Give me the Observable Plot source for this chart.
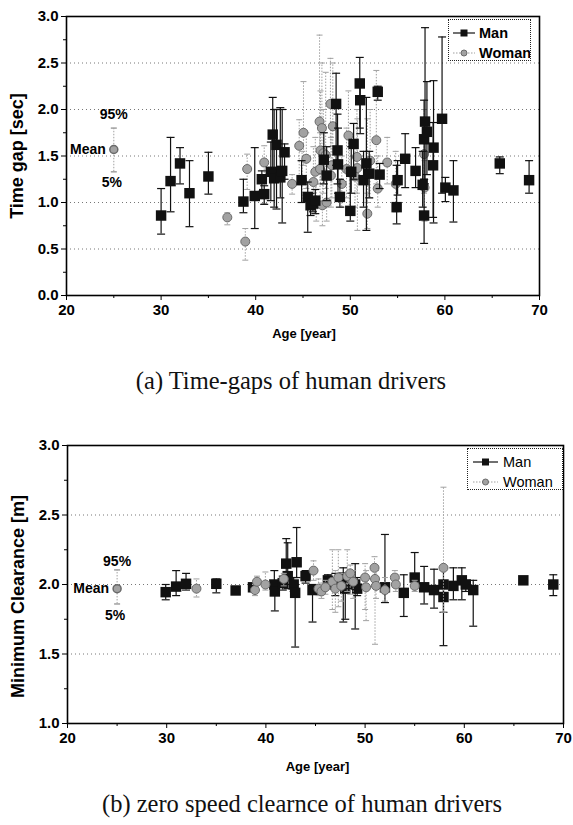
<!DOCTYPE html>
<html>
<head>
<meta charset="utf-8">
<script src="https://cdn.jsdelivr.net/npm/d3@7"></script>
<script src="https://cdn.jsdelivr.net/npm/@observablehq/plot@0.6"></script>
<style>
  html, body { margin: 0; padding: 0; background: #fff; }
  body { width: 573px; height: 825px; position: relative; overflow: hidden; font-family: "Liberation Sans", Arial, sans-serif; }
  .panel { position: absolute; left: 0; }
  .cap { position: absolute; transform: translateX(-50%); white-space: nowrap; font-family: "Liberation Serif", "Times New Roman", serif; font-size: 24.5px; line-height: 30px; color: #111; }
  .legend { position: absolute; box-sizing: border-box; border: 1px dotted #222; background: #fff; }
</style>
</head>
<body>
<div id="p1" class="panel" style="top:0px"></div>
<div class="cap" style="left:291px; top:366px">(a) Time-gaps of human drivers</div>
<div id="p2" class="panel" style="top:420px"></div>
<div class="cap" style="left:302px; top:789px">(b) zero speed clearnce of human drivers</div>
<script>
// ---------- data: [age, mean, 5%, 95%] ----------
const timeGapMan = [
  [30.0, 0.86, 0.66, 1.15], [31.0, 1.23, 0.90, 1.70], [32.0, 1.42, 1.20, 1.59],
  [33.0, 1.10, 0.74, 1.45], [35.0, 1.28, 1.09, 1.54], [38.7, 1.01, 0.89, 1.25],
  [39.9, 1.07, 0.72, 1.59], [40.65, 1.25, 1.12, 1.34], [40.9, 1.09, 0.98, 1.18],
  [41.6, 1.33, 1.02, 1.65], [41.8, 1.73, 1.30, 2.13], [41.95, 1.26, 0.95, 2.00],
  [42.2, 1.62, 0.93, 2.00], [42.6, 1.27, 1.05, 2.02], [42.8, 1.34, 0.78, 2.00],
  [43.05, 1.54, 1.25, 1.63], [44.85, 1.24, 1.00, 1.45], [45.5, 1.06, 0.68, 1.22],
  [45.8, 0.97, 0.86, 1.10], [46.05, 0.99, 0.90, 1.06], [46.3, 1.02, 0.88, 1.14],
  [47.2, 1.46, 1.20, 1.75], [47.5, 1.29, 1.02, 1.60], [48.5, 2.06, 1.40, 2.39],
  [48.65, 1.56, 1.20, 1.95], [48.7, 1.41, 1.10, 1.80], [48.9, 1.06, 0.95, 1.25],
  [50.0, 0.91, 0.80, 1.37], [50.1, 1.33, 1.10, 1.60], [50.35, 1.63, 1.25, 1.85],
  [51.0, 2.28, 1.80, 2.56], [51.05, 2.10, 1.74, 2.30], [51.4, 1.24, 0.95, 1.55],
  [51.7, 1.42, 0.70, 2.13], [52.0, 1.31, 1.05, 1.55], [52.9, 2.19, 2.10, 2.25],
  [53.1, 1.30, 1.15, 1.42], [54.9, 0.95, 0.77, 1.40], [55.0, 1.24, 1.08, 1.45],
  [55.8, 1.47, 1.16, 1.74], [56.9, 1.34, 1.16, 1.59], [57.65, 1.19, 0.95, 1.55],
  [57.8, 0.86, 0.56, 1.25], [57.8, 1.68, 1.25, 2.10], [57.9, 1.87, 1.20, 2.88],
  [58.1, 1.76, 1.30, 2.30], [58.75, 1.40, 0.84, 1.86], [58.8, 1.59, 0.78, 2.31],
  [59.7, 1.90, 1.10, 2.78], [60.05, 1.16, 1.01, 1.27], [60.9, 1.13, 0.79, 1.45],
  [65.8, 1.42, 1.31, 1.49], [68.9, 1.24, 1.10, 1.45]
];
const timeGapWoman = [
  [37.0, 0.84, 0.76, 0.89], [38.9, 0.58, 0.38, 0.72], [39.1, 1.36, 1.14, 1.52],
  [40.9, 1.43, 0.99, 1.61], [43.85, 1.20, 1.09, 1.30], [44.6, 1.61, 1.20, 1.89],
  [44.9, 1.24, 1.00, 1.55], [45.05, 1.75, 1.40, 2.30], [45.35, 1.47, 1.15, 1.75],
  [46.1, 1.22, 0.95, 1.60], [46.3, 1.33, 1.05, 1.70], [46.4, 0.98, 0.80, 1.20],
  [46.75, 1.87, 1.40, 2.80], [46.8, 1.36, 1.00, 1.75], [46.85, 1.56, 1.20, 2.20],
  [47.0, 1.80, 1.30, 2.50], [47.05, 0.97, 0.75, 1.25], [47.15, 1.53, 1.10, 2.00],
  [47.4, 1.51, 1.15, 2.40], [47.5, 1.00, 0.80, 1.30], [47.9, 2.06, 1.60, 2.55],
  [47.95, 1.29, 0.95, 1.70], [48.05, 1.40, 1.05, 1.80], [48.15, 1.82, 1.40, 2.50],
  [49.1, 1.20, 0.95, 1.50], [49.6, 1.36, 1.05, 1.80], [49.8, 1.72, 1.30, 2.20],
  [49.9, 1.34, 0.90, 1.75], [50.5, 1.28, 0.95, 1.65], [50.7, 1.49, 1.10, 2.00],
  [50.75, 1.37, 0.70, 1.90], [51.8, 1.43, 1.00, 1.90], [51.8, 0.88, 0.72, 1.10],
  [52.1, 1.45, 1.05, 2.00], [52.75, 1.67, 1.20, 2.42], [52.9, 1.15, 0.95, 1.50],
  [53.9, 1.43, 1.20, 1.70], [54.8, 1.20, 0.90, 1.55], [57.8, 1.52, 1.10, 2.00],
  [57.85, 1.16, 0.80, 1.45]
];
const clearanceMan = [
  [29.9, 1.945, 1.89, 2.00], [30.95, 1.985, 1.92, 2.10], [31.95, 2.005, 1.96, 2.08],
  [35.0, 2.005, 1.94, 2.04], [36.95, 1.957, 1.93, 1.98], [38.7, 1.98, 1.95, 2.00],
  [40.85, 2.00, 1.95, 2.10], [40.9, 1.95, 1.81, 2.00], [41.7, 2.01, 1.96, 2.06],
  [42.05, 2.15, 2.00, 2.33], [42.2, 2.06, 1.97, 2.30], [42.8, 2.00, 1.95, 2.05],
  [42.95, 1.94, 1.55, 2.00], [43.1, 2.16, 2.05, 2.41], [44.0, 2.06, 2.01, 2.10],
  [44.7, 1.96, 1.73, 2.00], [46.25, 2.03, 1.99, 2.07], [47.0, 2.00, 1.92, 2.08],
  [47.8, 2.05, 1.73, 2.12], [48.0, 1.97, 1.75, 2.03], [49.0, 2.00, 1.68, 2.15],
  [49.2, 1.97, 1.92, 2.05], [52.0, 1.98, 1.87, 2.36], [53.9, 1.94, 1.77, 2.07],
  [55.0, 2.05, 1.99, 2.23], [55.95, 1.98, 1.86, 2.13], [56.95, 1.96, 1.83, 2.11],
  [57.9, 2.00, 1.80, 2.12], [57.9, 1.91, 1.56, 2.00], [58.9, 1.99, 1.89, 2.12],
  [59.75, 2.03, 1.89, 2.12], [60.15, 2.00, 1.95, 2.03], [60.9, 1.96, 1.70, 2.03],
  [65.95, 2.03, 2.01, 2.04], [68.97, 2.00, 1.92, 2.07]
];
const clearanceWoman = [
  [33.0, 1.97, 1.91, 2.04], [38.9, 1.96, 1.92, 2.00], [39.1, 2.02, 1.96, 2.06],
  [39.95, 2.00, 1.96, 2.09], [41.8, 2.04, 1.99, 2.08], [44.8, 2.10, 2.03, 2.17],
  [45.3, 1.97, 1.92, 2.04], [45.6, 1.95, 1.90, 2.01], [46.0, 1.98, 1.93, 2.03],
  [46.7, 2.02, 1.82, 2.25], [47.0, 1.97, 1.80, 2.10], [47.3, 2.05, 1.84, 2.25],
  [47.6, 1.99, 1.88, 2.08], [48.2, 2.06, 1.95, 2.25], [48.5, 2.08, 1.93, 2.14],
  [48.8, 2.02, 1.90, 2.10], [50.0, 2.05, 1.82, 2.15], [50.1, 1.98, 1.74, 2.10],
  [50.95, 2.12, 1.98, 2.20], [51.0, 2.04, 1.57, 2.14], [51.1, 1.99, 1.90, 2.10],
  [52.0, 1.96, 1.88, 2.05], [53.0, 2.05, 1.98, 2.10], [53.1, 2.00, 1.95, 2.05],
  [55.0, 1.99, 1.95, 2.03], [57.9, 2.12, 1.80, 2.70]
];
// explanatory key point: [age, mean, 5%, 95%]
const timeGapKey = [[25, 1.57, 1.33, 1.80]];
const clearanceKey = [[25, 1.97, 1.86, 2.105]];
const keyLabels = ["95%", "Mean", "5%"];
const seriesNames = ["Man", "Woman"];

const xTicks = [20, 30, 40, 50, 60, 70];
const xMinor = [25, 35, 45, 55, 65];
const timeGapTicks = [0.0, 0.5, 1.0, 1.5, 2.0, 2.5, 3.0];
const timeGapGrid = [0.5, 1.0, 1.5, 2.0, 2.5];
const timeGapMinor = [0.25, 0.75, 1.25, 1.75, 2.25, 2.75];
const clearanceTicks = [1.0, 1.5, 2.0, 2.5, 3.0];
const clearanceGrid = [1.5, 2.0, 2.5];
const clearanceMinor = [1.25, 1.75, 2.25, 2.75];

// ---------- rendering ----------
const toRows = (arr) => arr.map(([age, mean, lo, hi]) => ({age, mean, lo, hi}));
const capSymbol = { draw(ctx, size) { const r = Math.sqrt(size / Math.PI); ctx.moveTo(-r, 0); ctx.lineTo(r, 0); } };

const MAN = "#111";
const WOMAN_FILL = "#a2a2a2";
const WOMAN_STROKE = "#6a6a6a";
const WOMAN_BAR = "#a0a0a0";
const FONT = "Liberation Sans, Arial, sans-serif";

function womanMarks(rows) {
  return [
    Plot.ruleX(rows, {x: "age", y1: "lo", y2: "hi", stroke: WOMAN_BAR, strokeWidth: 1, strokeDasharray: "1.5,1.5"}),
    Plot.dot(rows, {x: "age", y: "lo", symbol: capSymbol, r: 3, fill: "none", stroke: WOMAN_BAR, strokeWidth: 1}),
    Plot.dot(rows, {x: "age", y: "hi", symbol: capSymbol, r: 3, fill: "none", stroke: WOMAN_BAR, strokeWidth: 1}),
    Plot.dot(rows, {x: "age", y: "mean", r: 4.5, fill: WOMAN_FILL, stroke: WOMAN_STROKE, strokeWidth: 1})
  ];
}
function manMarks(rows) {
  return [
    Plot.ruleX(rows, {x: "age", y1: "lo", y2: "hi", stroke: MAN, strokeWidth: 1.2}),
    Plot.dot(rows, {x: "age", y: "lo", symbol: capSymbol, r: 4, fill: "none", stroke: MAN, strokeWidth: 1.2}),
    Plot.dot(rows, {x: "age", y: "hi", symbol: capSymbol, r: 4, fill: "none", stroke: MAN, strokeWidth: 1.2}),
    Plot.dot(rows, {x: "age", y: "mean", symbol: "square", r: 5.9, fill: MAN, stroke: "none"})
  ];
}

function panel(cfg) {
  const man = toRows(cfg.man), woman = toRows(cfg.woman), key = toRows(cfg.key);
  const series = cfg.womanOnTop ? [...manMarks(man), ...womanMarks(woman)] : [...womanMarks(woman), ...manMarks(man)];
  return Plot.plot({
    width: cfg.width, height: cfg.height,
    marginLeft: cfg.ml, marginRight: cfg.mr, marginTop: cfg.mt, marginBottom: cfg.mb,
    style: {fontFamily: FONT, background: "white", color: "#000", overflow: "visible"},
    x: {domain: [20, 70]},
    y: {domain: cfg.yDomain},
    marks: [
      Plot.gridY(cfg.grid, {stroke: "#777", strokeOpacity: 1, strokeWidth: 1, strokeDasharray: "1,3"}),
      ...series,
      // key point (mean and 5%/95% explanation)
      Plot.ruleX(key, {x: "age", y1: "lo", y2: "hi", stroke: WOMAN_BAR, strokeDasharray: "1.5,1.5"}),
      Plot.dot(key, {x: "age", y: "lo", symbol: capSymbol, r: 3, fill: "none", stroke: WOMAN_BAR}),
      Plot.dot(key, {x: "age", y: "hi", symbol: capSymbol, r: 3, fill: "none", stroke: WOMAN_BAR}),
      Plot.dot(key, {x: "age", y: "mean", r: 4, fill: WOMAN_FILL, stroke: WOMAN_STROKE}),
      Plot.text(key, {x: "age", y: "hi", text: () => keyLabels[0], dy: cfg.dyHi, fontSize: 14, fontWeight: "bold"}),
      Plot.text(key, {x: "age", y: "mean", text: () => keyLabels[1], dx: -8, textAnchor: "end", fontSize: 14, fontWeight: "bold"}),
      Plot.text(key, {x: "age", y: "lo", text: () => keyLabels[2], dx: -2, dy: cfg.dyLo, fontSize: 14, fontWeight: "bold"}),
      Plot.frame({stroke: "#000", strokeWidth: 1.6}),
      Plot.axisX({ticks: xTicks, tickSize: 5, tickPadding: 4, fontSize: 15, fontWeight: "bold", label: null, tickFormat: d3.format("d")}),
      Plot.axisX({ticks: xMinor, tickSize: 3, tickFormat: () => "", label: null}),
      Plot.axisY({ticks: cfg.yTicks, tickSize: 5, tickPadding: 3, fontSize: 15, fontWeight: "bold", label: null, tickFormat: d3.format(".1f")}),
      Plot.axisY({ticks: cfg.yMinor, tickSize: 3, tickFormat: () => "", label: null}),
      Plot.text([cfg.xLabel], {frameAnchor: "bottom", dy: cfg.xLabelDy, dx: cfg.xLabelDx, fontSize: 13, fontWeight: "bold"}),
      Plot.text([cfg.yLabel], {frameAnchor: "left", textAnchor: "middle", rotate: -90, dx: cfg.yLabelDx, dy: cfg.yLabelDy, fontSize: cfg.yLabelSize, fontWeight: "bold"})
    ]
  });
}

function legend(box) {
  const div = document.createElement("div");
  div.className = "legend";
  Object.assign(div.style, {left: box.left + "px", top: box.top + "px", width: box.w + "px", height: box.h + "px"});
  const ns = "http://www.w3.org/2000/svg";
  const svg = document.createElementNS(ns, "svg");
  svg.setAttribute("width", box.w - 2); svg.setAttribute("height", box.h - 2);
  const rows = [14, 34];
  seriesNames.forEach((name, i) => {
    const y = rows[i] - 1;
    const line = document.createElementNS(ns, "line");
    line.setAttribute("x1", box.l1); line.setAttribute("x2", box.l2);
    line.setAttribute("y1", y); line.setAttribute("y2", y);
    line.setAttribute("stroke", i === 0 ? MAN : WOMAN_BAR);
    line.setAttribute("stroke-width", 1.2);
    if (i === 1) line.setAttribute("stroke-dasharray", "1.5,1.5");
    svg.appendChild(line);
    const cx = (box.l1 + box.l2) / 2;
    if (i === 0) {
      const r = document.createElementNS(ns, "rect");
      r.setAttribute("x", cx - 3.5); r.setAttribute("y", y - 3.5);
      r.setAttribute("width", 7); r.setAttribute("height", 7); r.setAttribute("fill", MAN);
      svg.appendChild(r);
    } else {
      const c = document.createElementNS(ns, "circle");
      c.setAttribute("cx", cx); c.setAttribute("cy", y); c.setAttribute("r", 3);
      c.setAttribute("fill", WOMAN_FILL); c.setAttribute("stroke", WOMAN_STROKE);
      svg.appendChild(c);
    }
    const t = document.createElementNS(ns, "text");
    t.setAttribute("x", box.tx); t.setAttribute("y", y);
    t.setAttribute("dominant-baseline", "central");
    t.setAttribute("font-family", FONT); t.setAttribute("font-size", box.fs);
    t.setAttribute("font-weight", box.fw);
    t.textContent = name;
    svg.appendChild(t);
  });
  div.appendChild(svg);
  return div;
}

const p1 = document.getElementById("p1");
p1.appendChild(panel({
  man: timeGapMan, woman: timeGapWoman, key: timeGapKey, womanOnTop: false,
  width: 560, height: 350, ml: 66, mr: 21, mt: 16, mb: 55,
  yDomain: [0, 3], yTicks: timeGapTicks, grid: timeGapGrid, yMinor: timeGapMinor,
  dyHi: -14, dyLo: 11,
  xLabel: "Age [year]", xLabelDy: 42, xLabelDx: 1,
  yLabel: "Time gap [sec]", yLabelDx: -49, yLabelDy: 0, yLabelSize: 18
}));
p1.appendChild(legend({left: 448, top: 19, w: 83, h: 42, l1: 4, l2: 26, tx: 30, fs: 14.5, fw: "bold"}));

const p2 = document.getElementById("p2");
p2.appendChild(panel({
  man: clearanceMan, woman: clearanceWoman, key: clearanceKey, womanOnTop: true,
  width: 573, height: 360, ml: 67, mr: 10, mt: 25, mb: 57,
  yDomain: [1, 3], yTicks: clearanceTicks, grid: clearanceGrid, yMinor: clearanceMinor,
  dyHi: -8, dyLo: 12,
  xLabel: "Age [year]", xLabelDy: 47, xLabelDx: 2,
  yLabel: "Minimum Clearance [m]", yLabelDx: -49, yLabelDy: 12, yLabelSize: 18
}));
p2.appendChild(legend({left: 467, top: 28, w: 96, h: 42, l1: 5, l2: 30, tx: 35, fs: 14.5, fw: "normal"}));
</script>
</body>
</html>
